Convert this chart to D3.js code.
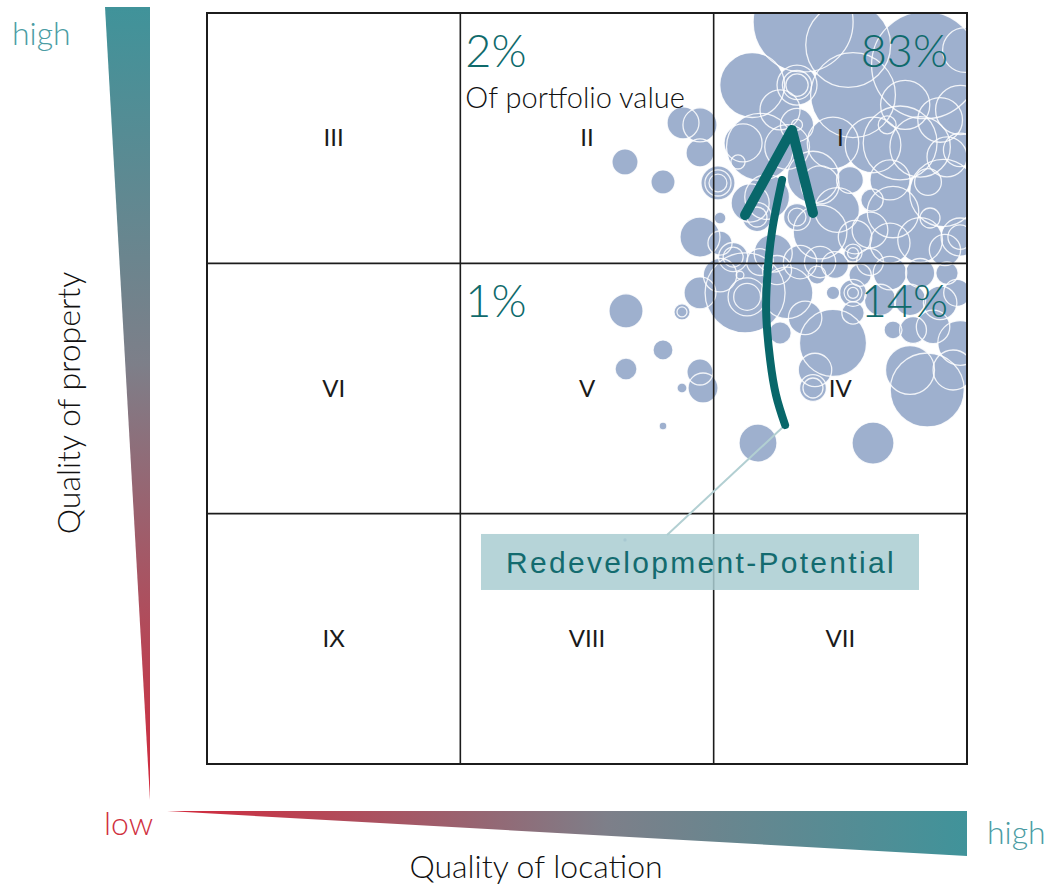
<!DOCTYPE html>
<html>
<head>
<meta charset="utf-8">
<script src="https://cdn.jsdelivr.net/npm/d3@7"></script>
<style>
  body { margin: 0; background: #fff; }
  svg text { font-family: "Lato", "Liberation Sans", sans-serif; }
</style>
</head>
<body>
<svg id="chart" width="1046" height="885"></svg>
<script>
// Assets: location quality score (0–3), property quality score (0–3), value (€m)
const locationScore = [
  1.650, 1.800, 1.879, 1.946, 1.946, 1.946, 2.017, 2.017, 2.017, 2.096,
  2.025, 2.025, 1.654, 1.875, 1.875, 1.800, 1.654, 1.946, 1.958, 1.875,
  1.800, 1.650, 1.946, 2.175, 2.629,
  2.353, 2.531, 2.835, 2.992, 2.152, 2.329, 2.329, 2.329, 2.550, 2.329,
  2.329, 2.685, 2.629, 2.815, 2.183, 2.290, 2.392, 2.538, 2.696, 2.846,
  2.906, 2.921, 2.736, 2.211, 2.329, 2.329, 2.487, 2.625, 2.708, 2.550,
  2.550, 2.973, 2.973, 2.077, 2.077, 2.235, 2.420, 2.558, 2.696, 2.854,
  2.171, 2.171, 2.144, 2.116, 2.420, 2.973, 2.973, 2.894,
  2.471, 2.756, 2.617, 2.815, 2.913, 2.262,
  2.124, 2.132, 2.132, 2.104, 2.250, 2.290, 2.262, 2.408, 2.471, 2.550,
  2.550, 2.550, 2.550, 2.471, 2.400, 2.392, 2.392, 2.696, 2.815, 2.921,
  2.708, 2.787, 2.866, 2.894, 2.961, 2.775, 2.843, 2.973, 2.945, 2.341,
  2.479, 2.617, 2.183, 2.578, 2.025,
  2.361, 2.657, 2.775, 2.420
];
const propertyScore = [
  2.405, 2.325, 2.561, 2.553, 2.441, 2.105, 2.321, 2.321, 2.321, 2.405,
  2.181, 2.081, 1.810, 1.806, 1.806, 1.654, 1.578, 1.566, 1.502, 1.502,
  1.350, 0.895, 1.882, 1.282, 1.282,
  2.964, 2.872, 2.792, 2.852, 2.712, 2.712, 2.712, 2.712, 2.672, 2.553,
  2.553, 2.553, 2.473, 2.465, 2.465, 2.465, 2.345, 2.333, 2.333, 2.325,
  2.281, 2.425, 2.481, 2.265, 2.185, 2.185, 2.213, 2.253, 2.205, 2.041,
  2.041, 2.105, 2.105, 2.025, 2.025, 2.041, 2.125, 2.105, 2.081, 2.181,
  2.185, 2.185, 2.241, 2.481, 2.313, 2.613, 2.453, 2.573,
  2.481, 2.633, 2.133, 2.093, 2.053, 2.613,
  1.882, 1.866, 1.866, 1.953, 1.973, 1.882, 1.722, 1.953, 1.882, 1.882,
  1.882, 1.882, 1.802, 1.682, 1.574, 1.502, 1.502, 1.961, 1.961, 1.961,
  1.734, 1.734, 1.746, 1.842, 1.882, 1.574, 1.494, 1.682, 1.574, 2.005,
  1.993, 2.005, 2.005, 1.953, 1.953,
  1.782, 1.854, 1.854, 2.005
];
const assetValue = [
  6.8, 5.8, 10.2, 11.6, 7.8, 16.0, 11.6, 6.8, 3.2, 2.0,
  1.4, 5.8, 11.6, 2.6, 1.0, 4.0, 4.8, 6.8, 9.0, 1.0,
  0.6, 0.2, 10.2, 14.4, 17.6,
  100.0, 72.0, 115.0, 20.0, 42.0, 16.0, 8.5, 5.0, 72.0, 11.0,
  1.2, 3.2, 31.0, 36.5, 45.0, 20.0, 26.5, 7.2, 16.0, 7.2,
  45.0, 16.0, 54.5, 20.0, 7.2, 3.2, 20.0, 5.0, 26.5, 3.2,
  1.2, 14.5, 6.0, 8.5, 4.0, 14.5, 28.8, 11.2, 16.0, 4.0,
  8.5, 4.0, 14.5, 14.5, 14.5, 24.2, 11.2, 20.0,
  26.5, 24.2, 12.8, 20.0, 9.8, 16.0,
  64.0, 14.5, 7.2, 0.6, 8.5, 26.5, 5.0, 3.2, 1.8, 7.2,
  3.2, 1.2, 5.0, 45.0, 11.2, 7.2, 4.0, 11.2, 8.5, 5.0,
  3.2, 7.2, 11.2, 11.2, 7.2, 24.0, 54.8, 20.0, 16.0, 11.2,
  7.2, 7.2, 7.2, 5.0, 11.2,
  11.2, 9.8, 9.8, 9.8
];

// Matrix cells, rows from high to low property quality
const cellNumerals = [
  ["III", "II", "I"],
  ["VI", "V", "IV"],
  ["IX", "VIII", "VII"]
];
// Share of portfolio value per cell
const shareCol = [2, 2, 1, 1];
const shareRow = [0, 1, 0, 1];
const shareText = ["83%", "14%", "2%", "1%"];

// Redevelopment path (location, property)
const pathLocation = [2.282, 2.246, 2.223, 2.207, 2.215, 2.231, 2.270];
const pathProperty = [1.354, 1.474, 1.614, 1.814, 1.993, 2.133, 2.333];
const headLocation = [2.124, 2.309, 2.392];
const headProperty = [2.193, 2.533, 2.201];
const calloutLocation = [2.282, 1.816];
const calloutProperty = [1.354, 0.915];
const calloutCenter = [1.946, 0.807];

const svg = d3.select("#chart");
const plotLeft = 207, plotRight = 967, plotTop = 13, plotBottom = 764;

const x = d3.scaleLinear().domain([0, 3]).range([plotLeft, plotRight]);
const y = d3.scaleLinear().domain([0, 3]).range([plotBottom, plotTop]);
const r = d3.scaleSqrt().domain([0, 100]).range([0, 50]);

const defs = svg.append("defs");
defs.append("clipPath").attr("id", "plotClip")
  .append("rect").attr("x", plotLeft).attr("y", plotTop)
  .attr("width", plotRight - plotLeft).attr("height", plotBottom - plotTop);

const vGrad = defs.append("linearGradient").attr("id", "gradV")
  .attr("x1", 0).attr("y1", 0).attr("x2", 0).attr("y2", 1);
vGrad.append("stop").attr("offset", "0%").attr("stop-color", "#40939a");
vGrad.append("stop").attr("offset", "45%").attr("stop-color", "#7d7f89");
vGrad.append("stop").attr("offset", "100%").attr("stop-color", "#d4283b");

const hGrad = defs.append("linearGradient").attr("id", "gradH")
  .attr("x1", 0).attr("y1", 0).attr("x2", 1).attr("y2", 0);
hGrad.append("stop").attr("offset", "0%").attr("stop-color", "#d4283b");
hGrad.append("stop").attr("offset", "55%").attr("stop-color", "#7d7f89");
hGrad.append("stop").attr("offset", "100%").attr("stop-color", "#40939a");

// Axis wedges
svg.append("polygon")
  .attr("points", [[105, 7], [150, 7], [150, 800]].join(" "))
  .attr("fill", "url(#gradV)");
svg.append("polygon")
  .attr("points", [[167, 811], [967, 811], [967, 856]].join(" "))
  .attr("fill", "url(#gradH)");

svg.append("text").attr("x", 12).attr("y", 45).text("high")
  .attr("font-size", 32).attr("font-weight", 300).attr("fill", "#4b9ca3");
svg.append("text").attr("x", 104).attr("y", 835).text("low")
  .attr("font-size", 32).attr("font-weight", 300).attr("fill", "#d0303f");
svg.append("text").attr("x", 987).attr("y", 844).text("high")
  .attr("font-size", 32).attr("font-weight", 300).attr("fill", "#4b9ca3");
svg.append("text")
  .attr("transform", "translate(80,403) rotate(-90)")
  .attr("text-anchor", "middle").text("Quality of property")
  .attr("font-size", 32).attr("font-weight", 300).attr("fill", "#111");
svg.append("text").attr("x", 536).attr("y", 878)
  .attr("text-anchor", "middle").text("Quality of location")
  .attr("font-size", 32).attr("font-weight", 300).attr("fill", "#111");

// Bubbles: fills first, outlines on top
const assets = d3.range(assetValue.length).map(i => ({
  loc: locationScore[i], prop: propertyScore[i], value: assetValue[i]
})).sort((a, b) => b.value - a.value);

const bubbles = svg.append("g").attr("clip-path", "url(#plotClip)");
bubbles.append("g").selectAll("circle").data(assets).join("circle")
  .attr("cx", d => x(d.loc)).attr("cy", d => y(d.prop)).attr("r", d => r(d.value))
  .attr("fill", "#9eb0ce");
bubbles.append("g").selectAll("circle").data(assets).join("circle")
  .attr("cx", d => x(d.loc)).attr("cy", d => y(d.prop)).attr("r", d => r(d.value))
  .attr("fill", "none").attr("stroke", "#fff").attr("stroke-width", 1.3)
  .attr("stroke-opacity", 0.85);

// Grid
const grid = svg.append("g").attr("stroke", "#1c1c1c");
grid.selectAll("line.v").data([1, 2]).join("line")
  .attr("x1", d => x(d)).attr("x2", d => x(d))
  .attr("y1", plotTop).attr("y2", plotBottom).attr("stroke-width", 1.6);
grid.selectAll("line.h").data([1, 2]).join("line")
  .attr("y1", d => y(d)).attr("y2", d => y(d))
  .attr("x1", plotLeft).attr("x2", plotRight).attr("stroke-width", 1.6);
grid.append("rect").attr("x", plotLeft).attr("y", plotTop)
  .attr("width", plotRight - plotLeft).attr("height", plotBottom - plotTop)
  .attr("fill", "none").attr("stroke-width", 2);

// Cell numerals
const cellW = x(1) - x(0), cellH = y(0) - y(1);
cellNumerals.forEach((row, ri) => row.forEach((lab, ci) => {
  svg.append("text")
    .attr("x", x(ci) + cellW / 2).attr("y", y(3 - ri) + cellH / 2 + 8)
    .attr("text-anchor", "middle").text(lab)
    .attr("font-size", 24).attr("font-weight", 400).attr("fill", "#1a1a1a");
}));

// Shares of portfolio value
shareText.forEach((t, i) => {
  const c = shareCol[i], rr = shareRow[i];
  const isRight = c === 2;
  svg.append("text")
    .attr("x", isRight ? x(c + 1) - 19 : x(c) + 5)
    .attr("y", y(3 - rr) + 54)
    .attr("text-anchor", isRight ? "end" : "start")
    .text(t).attr("font-size", 45).attr("font-weight", 300).attr("fill", "#0f6a6b");
});
svg.append("text").attr("x", x(1) + 5).attr("y", y(3) + 95)
  .text("Of portfolio value").attr("font-size", 29).attr("font-weight", 300)
  .attr("fill", "#111");

// Callout leader and box
svg.append("line")
  .attr("x1", x(calloutLocation[0])).attr("y1", y(calloutProperty[0]))
  .attr("x2", x(calloutLocation[1])).attr("y2", y(calloutProperty[1]))
  .attr("stroke", "#b2cfd2").attr("stroke-width", 2);
const bw = 438, bh = 56;
svg.append("rect")
  .attr("x", x(calloutCenter[0]) - bw / 2).attr("y", y(calloutCenter[1]) - bh / 2)
  .attr("width", bw).attr("height", bh)
  .attr("fill", "#a9cdd1").attr("fill-opacity", 0.85);
svg.append("text")
  .attr("x", x(calloutCenter[0]) + 1).attr("y", y(calloutCenter[1]) + 11)
  .attr("text-anchor", "middle").text("Redevelopment-Potential")
  .attr("font-size", 30).attr("letter-spacing", 2.3).attr("fill", "#136b6f")
  .style("font-family", "'Liberation Sans', Arial, sans-serif");

// Upgrade arrow
const pathLine = d3.line().curve(d3.curveCatmullRom.alpha(0.5))
  .x(d => x(d[0])).y(d => y(d[1]));
svg.append("path")
  .attr("d", pathLine(pathLocation.map((v, i) => [v, pathProperty[i]])))
  .attr("fill", "none").attr("stroke", "#08676a").attr("stroke-width", 8)
  .attr("stroke-linecap", "round");
svg.append("path")
  .attr("d", d3.line().x(d => x(d[0])).y(d => y(d[1]))(headLocation.map((v, i) => [v, headProperty[i]])))
  .attr("fill", "none").attr("stroke", "#08676a").attr("stroke-width", 10)
  .attr("stroke-linecap", "round").attr("stroke-linejoin", "round");
</script>
</body>
</html>
